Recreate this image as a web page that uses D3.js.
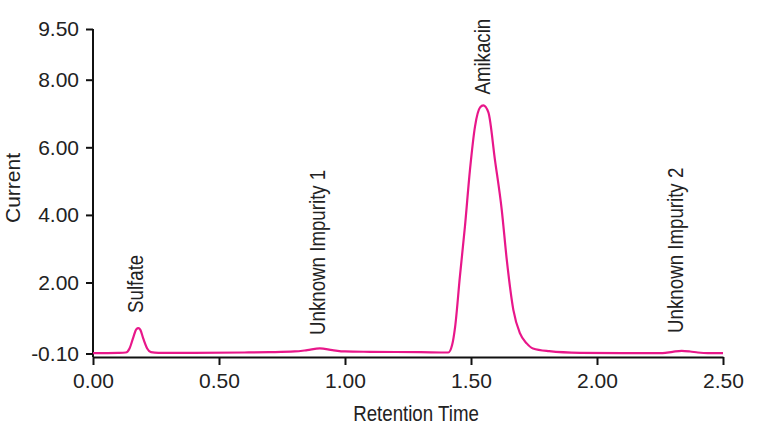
<!DOCTYPE html>
<html>
<head>
<meta charset="utf-8">
<script src="https://cdn.jsdelivr.net/npm/d3@7"></script>
<style>
  body { margin: 0; background: #fff; }
  .tick text { font-family: "Liberation Sans", Arial, sans-serif; font-size: 21px; fill: #222; }
  .lbl { font-family: "Liberation Sans", Arial, sans-serif; font-size: 22px; fill: #222; }
</style>
</head>
<body>
<script>
// chromatogram: retention time, current
var times = [0.00, 0.10, 0.13, 0.145, 0.16, 0.172, 0.18, 0.188, 0.20, 0.215, 0.23, 0.26, 0.40, 0.60,
  0.70, 0.80, 0.85, 0.90, 0.95, 1.00, 1.10, 1.30, 1.41, 1.425, 1.437, 1.456, 1.476, 1.496, 1.516,
  1.536, 1.549, 1.569, 1.595, 1.622, 1.642, 1.668, 1.694, 1.721, 1.746, 1.81, 1.933, 2.10, 2.26,
  2.30, 2.336, 2.37, 2.40, 2.44, 2.50];
var current = [-0.09, -0.08, -0.07, 0.05, 0.38, 0.62, 0.65, 0.60, 0.33, 0.05, -0.06, -0.08, -0.08, -0.07,
  -0.06, -0.04, 0.00, 0.05, 0.00, -0.04, -0.05, -0.06, -0.07, 0.15, 0.69, 2.18, 3.66, 5.34, 6.62,
  7.18, 7.24, 7.03, 5.63, 4.15, 2.67, 1.19, 0.50, 0.20, 0.05, -0.03, -0.08, -0.09, -0.09,
  -0.05, -0.02, -0.04, -0.07, -0.09, -0.09];

var xTicks = [0, 0.5, 1.0, 1.5, 2.0, 2.5];
var yTicks = [-0.1, 2, 4, 6, 8, 9.5];

// peak labels: name, time, current at the foot of the label
var peakNames = ["Sulfate", "Unknown Impurity 1", "Amikacin", "Unknown Impurity 2"];
var peakTimes = [0.167, 0.889, 1.544, 2.31];
var peakLevels = [1.1, 0.45, 7.56, 0.51];

var svg = d3.select("body").append("svg")
  .attr("width", 768)
  .attr("height", 432);

var x = d3.scaleLinear().domain([0, 2.5]).range([93, 723]);
var y = d3.scaleLinear().domain([-0.1, 9.5]).range([353.5, 29]);
var axisY = 357;
var fmt = function (d) { return d3.format(".2f")(d).replace("\u2212", "-"); };

//x axis
var gx = svg.append("g")
  .attr("transform", "translate(0," + axisY + ")")
  .call(d3.axisBottom(x).tickValues(xTicks).tickFormat(fmt)
    .tickSize(8).tickSizeOuter(0).tickPadding(8));

//y axis
var gy = svg.append("g")
  .attr("transform", "translate(" + x(0) + ",0)")
  .call(d3.axisLeft(y).tickValues(yTicks).tickFormat(fmt)
    .tickSize(7).tickSizeOuter(0).tickPadding(7));
gy.select(".domain").attr("d", "M0," + y(9.5) + "V" + axisY);

svg.selectAll(".domain, .tick line")
  .attr("stroke", "#111")
  .attr("stroke-width", 2);

//axis labels
svg.append("text")
  .attr("class", "lbl")
  .attr("transform", "translate(416,421) scale(0.85,1)")
  .attr("text-anchor", "middle")
  .text("Retention Time");

svg.append("text")
  .attr("class", "lbl")
  .style("font-size", "21px")
  .attr("transform", "translate(13,188) rotate(-90)")
  .attr("dy", "0.35em")
  .attr("text-anchor", "middle")
  .text("Current");

//curve
var pts = times.map(function (t, i) { return [t, current[i]]; });
var line = d3.line()
  .x(function (d) { return x(d[0]); })
  .y(function (d) { return y(d[1]); })
  .curve(d3.curveMonotoneX);

svg.append("path")
  .datum(pts)
  .attr("d", line)
  .attr("fill", "none")
  .attr("stroke", "#e8178a")
  .attr("stroke-width", 2.2);

//peak labels
svg.selectAll(".peak")
  .data(peakNames)
  .enter().append("text")
  .attr("class", "lbl peak")
  .attr("transform", function (d, i) {
    return "translate(" + x(peakTimes[i]) + "," + y(peakLevels[i]) + ") rotate(-90) scale(0.85,1)";
  })
  .attr("dy", "0.35em")
  .text(function (d) { return d; });
</script>
</body>
</html>
